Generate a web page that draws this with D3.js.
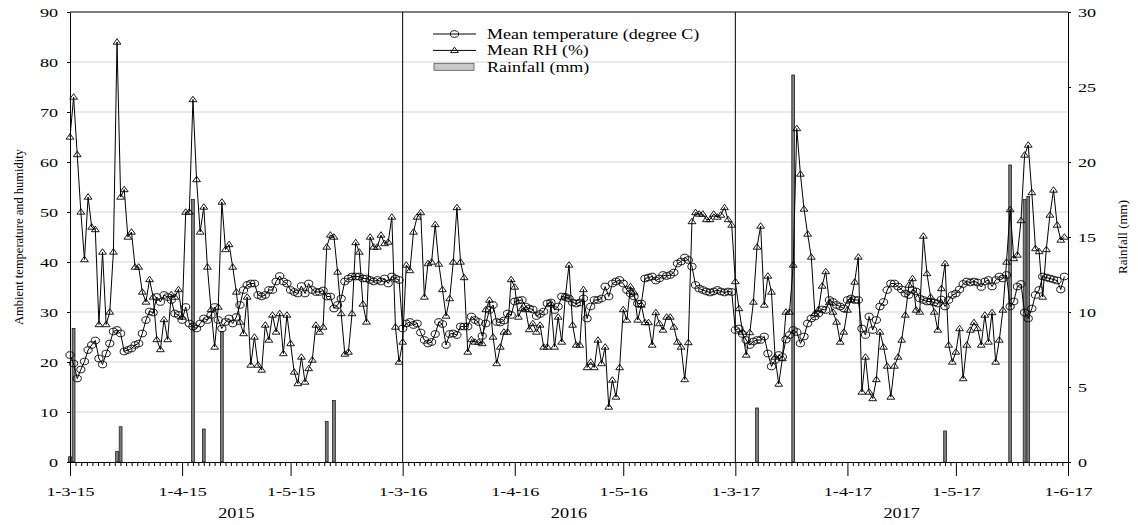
<!DOCTYPE html>
<html>
<head>
<meta charset="utf-8">
<script src="https://cdn.jsdelivr.net/npm/d3@7/dist/d3.min.js"></script>
<style>
    body { margin: 0; background: #fff; }
    text { font-family: "Liberation Serif", "Times New Roman", serif; fill: #000; }
</style>
</head>
<body>
<div id="chart"></div>
<script>
// daily values, 1 March to 31 May of each year
var years = [2015, 2016, 2017];

var temp2015 = [21.4, 19.7, 16.7, 18.5, 20.1, 22.4, 23.4, 24.3, 20.7, 19.5,
    21.7, 23.7, 26.1, 26.4, 25.7, 22.1, 22.4, 22.7, 23.4, 23.7,
    25.7, 28.4, 30.1, 29.9, 33, 32, 33.4, 33, 32.4, 29.7,
    29.4, 28.4, 31, 27.7, 27.1, 26.7, 27.7, 28.7, 28.4, 29.4,
    31, 28.4, 26.7, 28, 28.7,
    27.7, 29, 31.4, 34.4, 35.4, 35.7, 35.7, 33.4, 33.1, 33.4,
    34.4, 34.4, 36.1, 37.2, 36.1, 35.7, 34.4, 34, 33.7, 35.2,
    33.7, 35.7, 34.4, 34, 34, 34.3, 33.1, 33.1, 30.7, 31.4,
    32.7, 36.1, 36.7, 37.1, 37.1, 37.1, 36.7, 36.7, 36.4, 36.1,
    36.4, 36.1, 36.7, 35.7, 37.1, 36.7, 36.4];
var rh2015 = [65, 73, 61.5, 50, 40.5, 53, 47, 46.5, 27.5, 42,
    27.5, 30, 42, 84, 53, 54.5, 45, 46, 39, 39,
    34, 32, 36.5, 33, 24.5, 22.5, 28.5, 24.5, 33.5, 33,
    34.5, 29, 50, 50, 72.5, 56.5, 46, 51, 39, 30.5,
    23, 31, 52, 42.5, 43.5,
    39, 34, 28, 25.7, 33, 19.4, 25, 19.4, 18.4, 27.4,
    24.4, 29.4, 26, 29.7, 21.7, 29.4, 23.7, 18, 15.7, 21,
    16, 18.7, 20.4, 27.4, 26, 27, 43, 45.4, 45, 38,
    29.7, 21.6, 22, 29.7, 43.9, 42, 31.6, 28, 45, 43,
    43, 45.4, 43.7, 44, 49, 27, 20];

var temp2016 = [26.7, 27.7, 28, 27.4, 27.7, 25.9, 24.4, 23.7, 24, 25.6,
    28, 27.6, 23.4, 25.6, 25.7, 25.4, 27.1, 27.1, 27.1, 29.1,
    28.4, 28, 25.2, 27.7, 30.4, 31.4, 28, 27.9, 28.3, 29.7,
    29.4, 32.1, 32.3, 32.4, 31.1, 30.7, 30.5, 29.2, 29.6, 30.1,
    31.7, 31.9, 30.4, 31.1, 33.1, 33,
    32.7, 31.9, 31.7, 31.9, 32.7, 28.7, 31.1, 32.4, 32.4, 32.7,
    35.1, 33.1, 35.7, 36.1, 36.4, 35.7, 34.4, 33.7, 33.1, 31.7,
    31.7, 36.7, 36.9, 37.1, 36.3, 36.7, 37.4, 37.2, 37.4, 37.9,
    39.7, 40.1, 40.9, 40.4, 39.1, 35.4, 34.7, 34.4, 34.1, 33.9,
    34.1, 34.4, 34.1, 33.9, 34.1, 34];
var rh2016 = [24, 39.4, 38.3, 46, 49, 49.9, 33, 39.7, 40, 47.5,
    39.6, 34.5, 29.2, 32.7, 40, 50.9, 40, 36.9, 22, 24.5,
    24, 24, 23.7, 30.5, 32.4, 25, 19.7, 23, 26, 26,
    36.5, 35, 29, 30.7, 30.5, 26.5, 27.7, 26, 27.4, 23,
    23, 31.7, 23, 29, 24, 33.2,
    39.4, 27.4, 23.4, 23.4, 34.5, 18.9, 20, 18.9, 24.4, 19.7,
    23, 11, 16.4, 13, 18.9, 30.5, 28.4, 35.1, 33.9, 28.4,
    31.4, 27.9, 27.9, 23.4, 29.9, 27.7, 26.4, 29, 29, 27,
    24, 23, 16.5, 23.9, 48.1, 49.9, 49.6, 49.6, 48.5, 48.5,
    49.6, 49, 49.4, 50.9, 48.5, 47.4];

var temp2017 = [26.4, 26.7, 25.6, 24.4, 23.4, 24.1, 24.4, 24.4, 25.1, 21.7,
    19.1, 20.4, 21.4, 21, 24.5, 25.4, 26.4, 26, 23.7, 25.1,
    27.7, 28.7, 29.1, 29.7, 30.5, 30.4, 32.4, 32, 31.4, 31.1,
    30.7, 32.4, 32.7, 32.4, 32.4, 26.7, 25.4, 29.1, 26.4, 28.4,
    31.1, 32, 34.4, 35.7, 35.7,
    35.1, 34.5, 33.7, 33.4, 34.4, 34.1, 32.7, 32.4, 32.1, 32.1,
    31.9, 31.7, 32.5, 31.1, 32.4, 33.4, 33.7, 34.5, 35.6, 36.1,
    35.9, 36.1, 35.9, 35, 36.1, 36.4, 35.1, 36.4, 37.1, 36.7,
    37.4, 31.1, 32.1, 35.1, 35.6, 29.9, 28.7, 30.7, 33.4, 34.4,
    37.1, 36.9, 36.7, 36.5, 36.3, 34.5, 37.1];
var rh2017 = [36.1, 30.7, 26, 21.4, 25.9, 32, 43, 47.2, 31.4, 37.2,
    34, 21, 15.6, 20.7, 30, 30, 39.4, 66.7, 57.6, 50.6,
    45.6, 41, 29.7, 30.5, 35.2, 38.1, 31.9, 30, 28, 24,
    26, 30.4, 32.4, 36, 41, 14, 21, 14, 12.7, 16.5,
    26, 23, 19.2, 13, 19.2, 21,
    24.4, 29.4, 35.4, 36.7, 30.4, 30, 45.2, 37.7, 33, 30,
    26.4, 34.7, 39.7, 23.4, 20, 22, 26.7, 16.7, 23.4, 26.4,
    27.9, 26.7, 23.4, 29.4, 24, 29.9, 20, 24.4, 30.4, 40,
    50.5, 40.7, 41.4, 48.3, 61.4, 63.4, 53.9, 42.7, 42.1, 33,
    42.5, 49.4, 54.4, 47.4, 44.4, 45];

// rainfall: day index (0 = 1 March) and amount in mm
var rainDay2015 = [0, 1, 13, 14, 34, 37, 42, 71, 73];
var rainMm2015 = [0.35, 8.9, 0.7, 2.35, 17.5, 2.2, 8.7, 2.7, 4.1];
var rainDay2016 = [];
var rainMm2016 = [];
var rainDay2017 = [6, 16, 58, 76, 80, 81];
var rainMm2017 = [3.6, 25.8, 2.07, 19.8, 17.5, 17.7];

var leftTicks = [0, 10, 20, 30, 40, 50, 60, 70, 80, 90];
var rightTicks = [0, 5, 10, 15, 20, 25, 30];
var tickMonths = [2, 3, 4];
var legendLabels = ['Mean temperature (degree C)', 'Mean RH (%)', 'Rainfall (mm)'];

var tempByYear = {2015: temp2015, 2016: temp2016, 2017: temp2017};
var rhByYear = {2015: rh2015, 2016: rh2016, 2017: rh2017};
var rainByYear = {
    2015: [rainDay2015, rainMm2015],
    2016: [rainDay2016, rainMm2016],
    2017: [rainDay2017, rainMm2017]
};

var svgWidth = 1138;
var svgHeight = 525;
var margin = {top: 12, right: 70, bottom: 63, left: 70};
var width = svgWidth - margin.left - margin.right;
var height = svgHeight - margin.top - margin.bottom;

var serif = '"Liberation Serif", "Times New Roman", serif';
var stretch = 'scale(1.45,1)';

var svg = d3.select('#chart')
    .append('svg')
    .attr('width', svgWidth)
    .attr('height', svgHeight);

var chartGroup = svg.append('g')
    .attr('transform', `translate(${margin.left}, ${margin.top})`);

// scales
var yLeft = d3.scaleLinear().domain([0, 90]).range([height, 0]);
var yRight = d3.scaleLinear().domain([0, 30]).range([height, 0]);
var xPanel = d3.scaleBand().domain(years).range([0, width]);

function xScale(year) {
    return d3.scaleUtc()
        .domain([Date.UTC(year, 2, 1), Date.UTC(year, 5, 1)])
        .range([xPanel(year), xPanel(year) + xPanel.bandwidth()]);
}

function dayDate(year, i) {
    return new Date(Date.UTC(year, 2, 1 + i));
}

// gridlines
chartGroup.selectAll('.grid')
    .data(leftTicks.filter(v => v > 0 && v < 90))
    .enter()
    .append('line')
    .attr('x1', 0)
    .attr('x2', width)
    .attr('y1', d => yLeft(d))
    .attr('y2', d => yLeft(d))
    .attr('stroke', '#d6d6d6')
    .attr('stroke-width', 1);

// rainfall bars, temperature and RH points
var points = [];
years.forEach(function(year) {
    var xs = xScale(year);
    var rain = rainByYear[year];
    var bars = rain[0].map((d, i) => ({x: xs(dayDate(year, d)), mm: rain[1][i]}));

    chartGroup.selectAll('.bar' + year)
        .data(bars)
        .enter()
        .append('rect')
        .attr('x', d => d.x - 1.4)
        .attr('width', 2.8)
        .attr('y', d => yRight(d.mm))
        .attr('height', d => height - yRight(d.mm))
        .attr('fill', '#7e7e7e')
        .attr('stroke', '#222')
        .attr('stroke-width', 0.8);

    tempByYear[year].forEach(function(t, i) {
        points.push({x: xs(dayDate(year, i)), t: t, rh: rhByYear[year][i]});
    });
});

var tempLine = d3.line().x(d => d.x).y(d => yLeft(d.t));
var rhLine = d3.line().x(d => d.x).y(d => yLeft(d.rh));

chartGroup.append('path')
    .datum(points)
    .attr('d', rhLine)
    .attr('fill', 'none')
    .attr('stroke', '#000')
    .attr('stroke-width', 1);

chartGroup.append('path')
    .datum(points)
    .attr('d', tempLine)
    .attr('fill', 'none')
    .attr('stroke', '#000')
    .attr('stroke-width', 1);

var triangle = 'M0,-3.3L3.9,2.2L-3.9,2.2Z';

chartGroup.selectAll('.rh')
    .data(points)
    .enter()
    .append('path')
    .attr('d', triangle)
    .attr('transform', d => `translate(${d.x}, ${yLeft(d.rh)})`)
    .attr('fill', 'none')
    .attr('stroke', '#000')
    .attr('stroke-width', 0.9);

chartGroup.selectAll('.temp')
    .data(points)
    .enter()
    .append('ellipse')
    .attr('cx', d => d.x)
    .attr('cy', d => yLeft(d.t))
    .attr('rx', 4.1)
    .attr('ry', 3.3)
    .attr('fill', 'none')
    .attr('stroke', '#000')
    .attr('stroke-width', 0.9);

// frame: top line and panel dividers
chartGroup.append('line')
    .attr('x1', 0).attr('x2', width)
    .attr('y1', 0).attr('y2', 0)
    .attr('stroke', '#000');

years.slice(1).forEach(function(year) {
    chartGroup.append('line')
        .attr('x1', xPanel(year)).attr('x2', xPanel(year))
        .attr('y1', 0).attr('y2', height)
        .attr('stroke', '#000');
});

// left axis
var leftAxis = chartGroup.append('g')
    .call(d3.axisLeft(yLeft).tickValues(leftTicks).tickSize(3).tickSizeOuter(0).tickPadding(5.3));
leftAxis.attr('font-family', serif).attr('font-size', 12.5);
leftAxis.selectAll('text').attr('transform', stretch);

// right axis
var rightAxis = chartGroup.append('g')
    .attr('transform', `translate(${width}, 0)`)
    .call(d3.axisRight(yRight).tickValues(rightTicks).tickSize(3).tickSizeOuter(0).tickPadding(3.9));
rightAxis.attr('font-family', serif).attr('font-size', 12.5);
rightAxis.selectAll('text').attr('transform', stretch);

// bottom axes, one per year
function dateLabel(d) {
    return `${d.getUTCDate()}-${d.getUTCMonth() + 1}-${String(d.getUTCFullYear()).slice(2)}`;
}

years.forEach(function(year, k) {
    var xs = xScale(year);
    var majors = tickMonths.map(m => new Date(Date.UTC(year, m, 1)));
    var minors = [];
    tickMonths.forEach(function(m) {
        var a = Date.UTC(year, m, 1);
        var b = Date.UTC(year, m + 1, 1);
        for (var j = 1; j < 20; j++) minors.push(new Date(a + (b - a) * j / 20));
    });

    chartGroup.append('g')
        .attr('transform', `translate(0, ${height})`)
        .call(d3.axisBottom(xs).tickValues(minors).tickSize(4).tickSizeOuter(0).tickFormat(''));

    var labels = (k === years.length - 1) ? majors.concat([new Date(Date.UTC(year, 5, 1))]) : majors;
    var bottomAxis = chartGroup.append('g')
        .attr('transform', `translate(0, ${height})`)
        .call(d3.axisBottom(xs).tickValues(labels).tickSize(14).tickSizeOuter(0)
            .tickPadding(11).tickFormat(dateLabel));
    bottomAxis.attr('font-family', serif).attr('font-size', 12.5);
    bottomAxis.selectAll('text').attr('transform', stretch);

    chartGroup.append('text')
        .attr('transform', `translate(${xPanel(year) + xPanel.bandwidth() / 2}, ${height + 56}) scale(1.3,1)`)
        .attr('text-anchor', 'middle')
        .attr('font-size', 14)
        .text(year);
});

// axis titles
svg.append('text')
    .attr('transform', 'translate(23, 237) rotate(-90)')
    .attr('text-anchor', 'middle')
    .attr('font-size', 12.5)
    .text('Ambient temperature and humidity');

svg.append('text')
    .attr('transform', 'translate(1127, 237) rotate(-90)')
    .attr('text-anchor', 'middle')
    .attr('font-size', 13)
    .text('Rainfall (mm)');

// legend
var legend = svg.append('g').attr('transform', 'translate(433, 34)');
legendLabels.forEach(function(label, i) {
    var row = legend.append('g').attr('transform', `translate(0, ${i * 16.4})`);
    if (i < 2) {
        row.append('line')
            .attr('x1', 0).attr('x2', 43)
            .attr('y1', 0).attr('y2', 0)
            .attr('stroke', '#000')
            .attr('stroke-width', 1);
        if (i === 0) {
            row.append('ellipse')
                .attr('cx', 21.5).attr('cy', 0)
                .attr('rx', 4.1).attr('ry', 3.3)
                .attr('fill', 'none').attr('stroke', '#000').attr('stroke-width', 0.9);
        } else {
            row.append('path')
                .attr('d', triangle)
                .attr('transform', 'translate(21.5, 0)')
                .attr('fill', 'none').attr('stroke', '#000').attr('stroke-width', 0.9);
        }
    } else {
        row.append('rect')
            .attr('x', 1).attr('y', -3.5)
            .attr('width', 40).attr('height', 7)
            .attr('fill', '#c8c8c8')
            .attr('stroke', '#555')
            .attr('stroke-width', 0.8);
    }
    row.append('text')
        .attr('transform', 'translate(54, 5) scale(1.2,1)')
        .attr('font-size', 15)
        .text(label);
});
</script>
</body>
</html>
